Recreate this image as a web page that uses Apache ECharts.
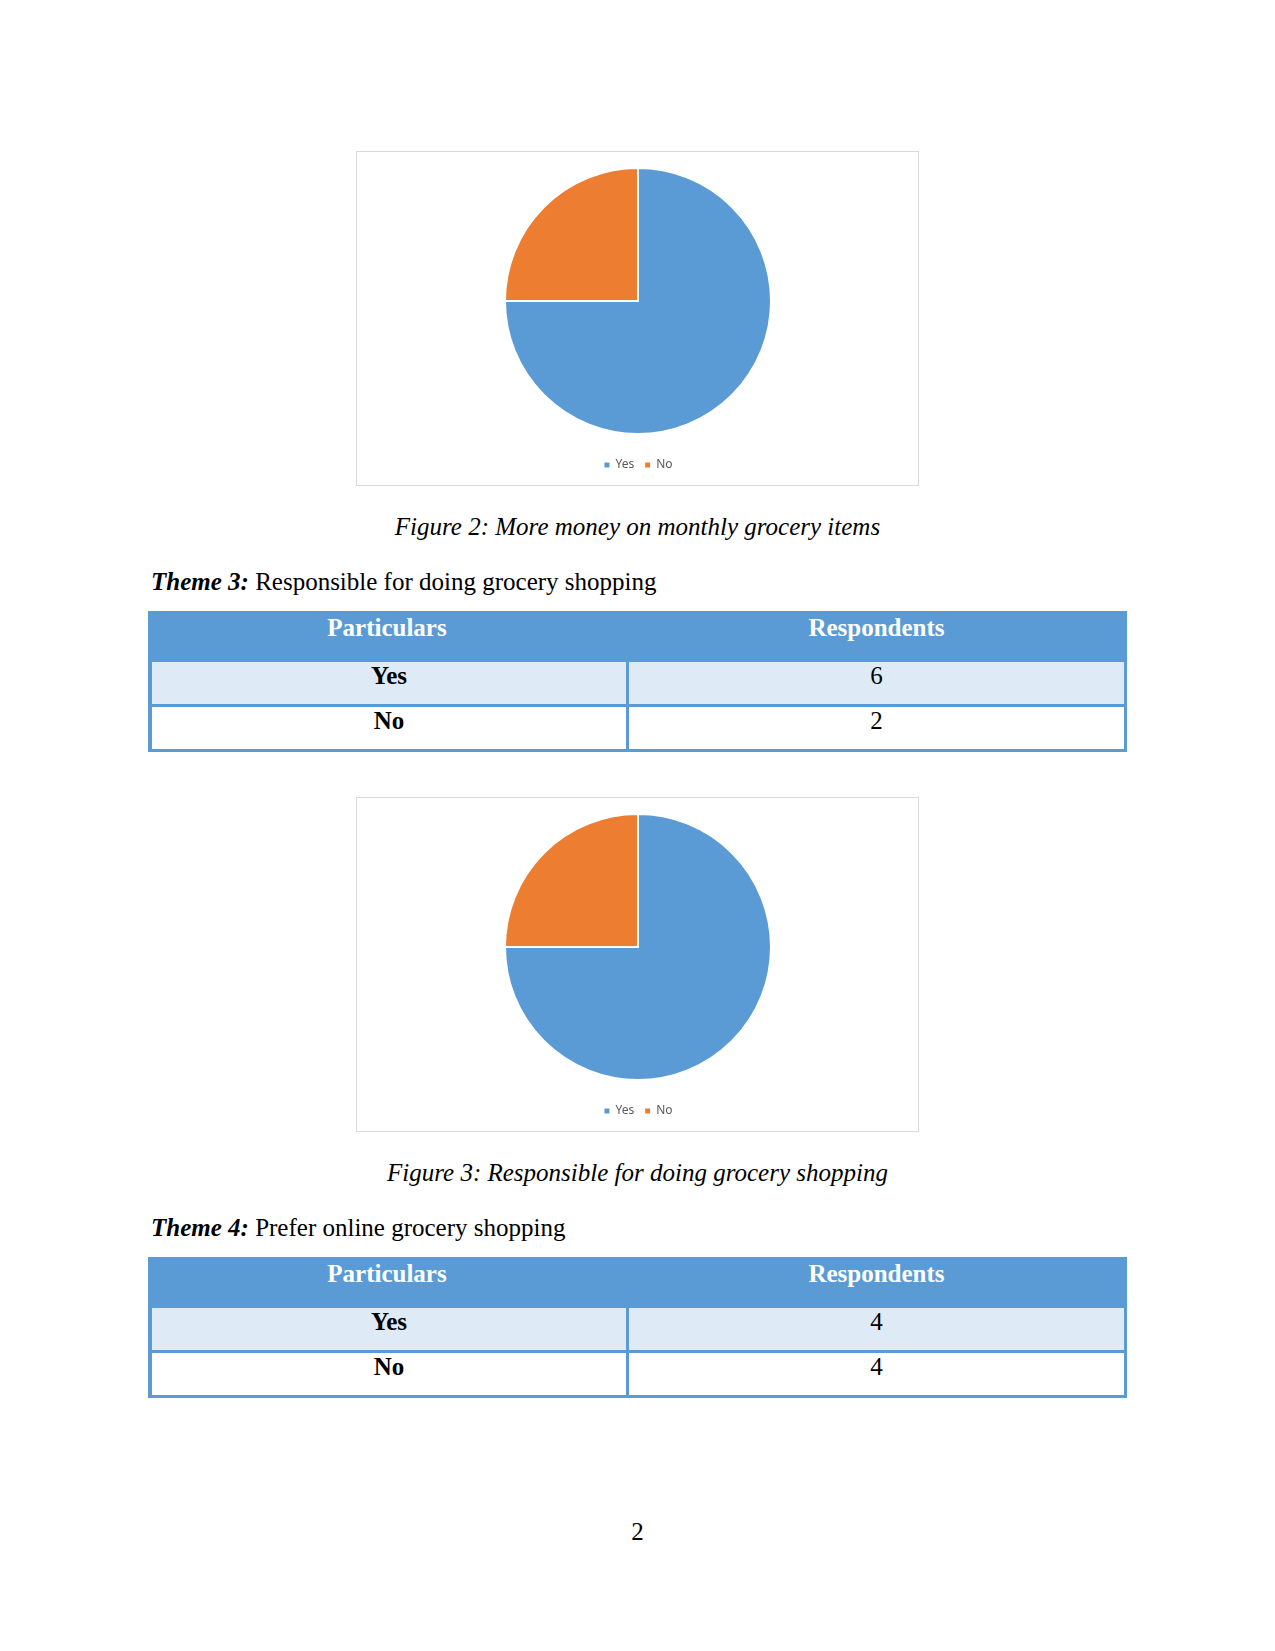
<!DOCTYPE html>
<html>
<head>
<meta charset="utf-8">
<script src="https://cdn.jsdelivr.net/npm/echarts@6/dist/echarts.min.js"></script>
<style>
  html, body { margin: 0; padding: 0; background: #ffffff; }
  body { width: 1275px; height: 1651px; position: relative; overflow: hidden;
         font-family: "Liberation Serif", "Times New Roman", serif; color: #000; }
  .box { position: absolute; left: 356px; width: 561px; height: 333px; border: 1px solid #d9d9d9; background: #fff; }
  .chart { position: absolute; left: 0; top: 0; width: 561px; height: 333px; }
  .line { position: absolute; font-size: 25px; line-height: 30px; white-space: nowrap; }
  .caption { left: 0; width: 1275px; text-align: center; font-style: italic; }
  .theme { left: 151px; }
  .tbl { position: absolute; left: 148px; width: 979px; background: #5B9BD5; }
  .cell { position: absolute; text-align: center; font-size: 25px; line-height: 30px; box-sizing: border-box; }
</style>
</head>
<body>
<div id="page"></div>
<script>
// ---- data ----
var pieCategories = ["Yes", "No"];
var fig2Values = [6, 2];
var fig3Values = [6, 2];
var tableHeader = ["Particulars", "Respondents"];
var table3Rows = ["Yes", "No"];
var table3Values = [6, 2];
var table4Rows = ["Yes", "No"];
var table4Values = [4, 4];
var captions = ["Figure 2: More money on monthly grocery items", "Figure 3: Responsible for doing grocery shopping"];
var themeLabels = ["Theme 3:", "Theme 4:"];
var themeTexts = ["Responsible for doing grocery shopping", "Prefer online grocery shopping"];
var pageNumber = "2";
var colors = ["#5B9BD5", "#ED7D31"];

var page = document.getElementById('page');

function addText(cls, top, html) {
  var d = document.createElement('div');
  d.className = 'line ' + cls;
  d.style.top = top + 'px';
  d.innerHTML = html;
  page.appendChild(d);
  return d;
}

function makePie(top, values) {
  var box = document.createElement('div');
  box.className = 'box';
  box.style.top = top + 'px';
  var c = document.createElement('div');
  c.className = 'chart';
  box.appendChild(c);
  page.appendChild(box);
  var ch = echarts.init(c, null, { renderer: 'canvas' });
  ch.setOption({
    animation: false,
    color: colors,
    legend: {
      data: pieCategories,
      left: 'center',
      top: 302,
      icon: 'rect',
      itemWidth: 7,
      itemHeight: 7,
      itemGap: 9,
      textStyle: { fontFamily: 'Noto Sans', fontSize: 12, color: '#595959', padding: [0, 0, 0, 0] }
    },
    series: [{
      type: 'pie',
      center: [281, 149],
      radius: 133,
      startAngle: 90,
      clockwise: true,
      label: { show: false },
      labelLine: { show: false },
      emphasis: { disabled: true },
      itemStyle: { borderColor: '#ffffff', borderWidth: 2 },
      data: pieCategories.map(function (n, i) { return { name: n, value: values[i] }; })
    }]
  });
}

function makeTable(top, rows, vals) {
  var t = document.createElement('div');
  t.className = 'tbl';
  t.style.top = top + 'px';
  t.style.height = '141px';
  page.appendChild(t);
  var colX = [0, 478];
  var colW = [478, 501];
  tableHeader.forEach(function (h, i) {
    var c = document.createElement('div');
    c.className = 'cell';
    c.style.left = colX[i] + 'px';
    c.style.width = colW[i] + 'px';
    c.style.top = '2px';
    c.style.height = '47px';
    c.style.color = '#ffffff';
    c.style.fontWeight = 'bold';
    c.textContent = h;
    t.appendChild(c);
  });
  var rowTops = [51, 96];
  var rowH = [42, 42];
  var bgs = ['#DEEAF6', '#ffffff'];
  rows.forEach(function (r, k) {
    var a = document.createElement('div');
    a.className = 'cell';
    a.style.left = '4px';
    a.style.width = (colW[0] - 4) + 'px';
    a.style.top = rowTops[k] + 'px';
    a.style.height = rowH[k] + 'px';
    a.style.background = bgs[k];
    a.style.fontWeight = 'bold';
    a.style.lineHeight = '28px';
    a.textContent = r;
    t.appendChild(a);
    var b = document.createElement('div');
    b.className = 'cell';
    b.style.left = (colX[1] + 3) + 'px';
    b.style.width = (colW[1] - 3 - 3) + 'px';
    b.style.top = rowTops[k] + 'px';
    b.style.height = rowH[k] + 'px';
    b.style.background = bgs[k];
    b.style.lineHeight = '28px';
    b.textContent = String(vals[k]);
    t.appendChild(b);
  });
}

makePie(151, fig2Values);
addText('caption', 512, '<i>' + captions[0] + '</i>');
addText('theme', 567, '<b><i>' + themeLabels[0] + '</i></b> ' + themeTexts[0]);
makeTable(611, table3Rows, table3Values);

makePie(797, fig3Values);
addText('caption', 1158, '<i>' + captions[1] + '</i>');
addText('theme', 1213, '<b><i>' + themeLabels[1] + '</i></b> ' + themeTexts[1]);
makeTable(1257, table4Rows, table4Values);

addText('caption', 1517, pageNumber).style.fontStyle = 'normal';
</script>
</body>
</html>
